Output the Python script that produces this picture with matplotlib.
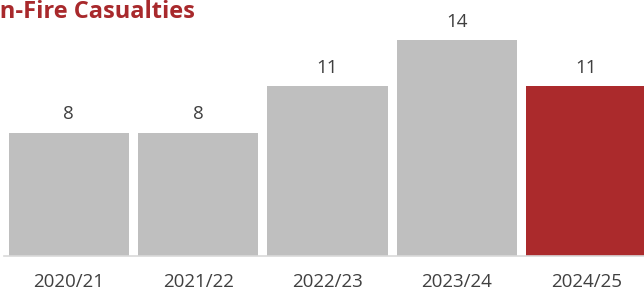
import matplotlib
matplotlib.use("Agg")
import matplotlib.pyplot as plt

# data
years = ["2020/21", "2021/22", "2022/23", "2023/24", "2024/25"]
casualties = [8, 8, 11, 14, 11]
highlight = "2024/25"

grey = "#BFBFBF"
red = "#AB2A2C"
text_col = "#404040"

plt.rcParams["font.family"] = ["Open Sans", "DejaVu Sans"]

fig = plt.figure(figsize=(6.44, 3.0), dpi=100)
# axes runs a little past the right edge so the last bar is cut like the original
ax = fig.add_axes([4 / 644, 44 / 300, 647 / 644, 247 / 300])

colors = [red if y == highlight else grey for y in years]
x = range(len(years))
bars = ax.bar(x, casualties, width=0.93, color=colors, zorder=2)

for b, v in zip(bars, casualties):
    ax.text(b.get_x() + b.get_width() / 2, v + 0.85, str(v),
            ha="center", va="baseline", fontsize=13.5, color=text_col)

ax.set_xlim(-0.5, len(years) - 0.5)
ax.set_ylim(0, 16)
ax.set_xticks(list(x))
ax.set_xticklabels(years, fontsize=13.5, color=text_col)
ax.tick_params(axis="x", length=0, pad=12)
ax.set_yticks([])
for s in ["top", "right", "left"]:
    ax.spines[s].set_visible(False)
ax.spines["bottom"].set_color("#D9D9D9")
ax.spines["bottom"].set_linewidth(1.2)

# title is cut off at the left edge in the original
fig.text(195 / 644, 1 - 18 / 300, "Non-Fire Casualties", ha="right", va="baseline",
         fontsize=17, fontweight="bold", color="#A8292C")

fig.savefig("out.png", dpi=100)
